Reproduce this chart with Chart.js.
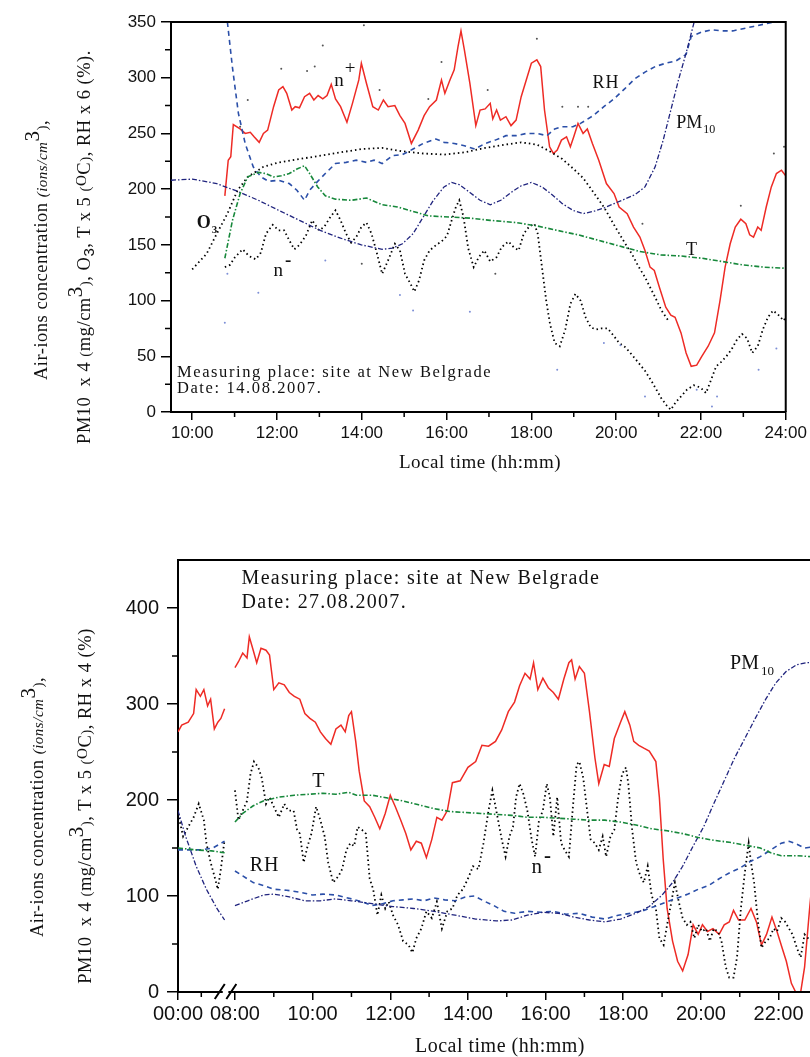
<!DOCTYPE html>
<html>
<head>
<meta charset="utf-8">
<script src="https://cdn.jsdelivr.net/npm/chart.js@4.4.1/dist/chart.umd.min.js"></script>
<style>
  body { margin: 0; background: #fff; overflow: hidden; width: 810px; height: 1057px; position: relative; font-family: 'Liberation Serif', serif; color: #111; }
  canvas { position: absolute; left: 0; }
  #topChart { top: 0; }
  #botChart { top: 540px; }
  .ytitle { position: absolute; white-space: nowrap; transform: translate(-50%, -50%) rotate(-90deg); font-size: 18.5px; letter-spacing: 0.5px; }
  .ytitle .s { font-size: 15px; }
  .ytitle sup { font-size: 21px; position: relative; top: -0.4em; vertical-align: baseline; }
  .ytitle sup.o { font-size: 15px; top: -0.25em; }
  .xtitle { position: absolute; white-space: nowrap; transform: translate(-50%, -50%); letter-spacing: 0.5px; }
</style>
</head>
<body>
<canvas id="topChart" width="810" height="480"></canvas>
<canvas id="botChart" width="840" height="517"></canvas>

<div class="ytitle" style="left:40px; top:250px;">Air-ions concentration <i class="s">(ions/cm</i><sup>3</sup><span class="s">)</span>,</div>
<div class="ytitle" style="left:84px; top:247px;">PM10&nbsp; x 4 <span class="s">(</span>mg/cm<sup>3</sup><span class="s">)</span>, O<sub style="font-family:'Liberation Sans';font-size:15px">3</sub>, T x 5 <span class="s">(</span><sup class="o">O</sup>C<span class="s">)</span>, RH x 6 (%).</div>
<div class="xtitle" style="left:480px; top:462px; font-size:19px;">Local time (hh:mm)</div>

<div class="ytitle" style="left:36px; top:807px;">Air-ions concentration <i class="s">(ions/cm</i><sup>3</sup><span class="s">)</span>,</div>
<div class="ytitle" style="left:84px; top:806px;">PM10&nbsp; x 4 <span class="s">(</span>mg/cm<sup>3</sup><span class="s">)</span>, T x 5 <span class="s">(</span><sup class="o">O</sup>C<span class="s">)</span>, RH x 4 (%)</div>
<div class="xtitle" style="left:500px; top:1045px; font-size:20px;">Local time (hh:mm)</div>

<script>
// ---- 14.08.2007 (top panel), [hour, value] ----
const topNPlus = [[10.77,194],[10.85,226],[10.91,229],[10.97,258],[11.13,254],[11.25,250],[11.37,251],[11.46,247],[11.58,242],[11.68,250],[11.78,253],[11.92,274],[12.04,289],[12.14,292],[12.23,286],[12.35,271],[12.43,274],[12.53,273],[12.65,283],[12.77,286],[12.87,280],[12.97,284],[13.08,281],[13.18,284],[13.28,294],[13.38,281],[13.5,274],[13.65,260],[13.78,277],[13.93,298],[13.99,313],[14.11,295],[14.26,274],[14.39,271],[14.51,280],[14.62,274],[14.78,275],[14.9,266],[15.02,259],[15.17,241],[15.33,253],[15.47,266],[15.6,274],[15.76,280],[15.88,298],[15.96,286],[16.08,298],[16.18,307],[16.27,328],[16.34,342],[16.42,325],[16.55,295],[16.69,257],[16.79,271],[16.91,272],[17.03,277],[17.09,263],[17.18,271],[17.27,262],[17.4,265],[17.52,257],[17.64,262],[17.76,283],[17.88,298],[18.0,313],[18.13,316],[18.22,310],[18.31,271],[18.43,238],[18.52,232],[18.61,235],[18.71,244],[18.83,247],[18.92,238],[19.0,247],[19.1,259],[19.22,250],[19.32,254],[19.44,241],[19.59,226],[19.77,205],[19.95,196],[20.07,184],[20.26,178],[20.41,166],[20.56,157],[20.68,145],[20.8,130],[20.9,127],[21.02,112],[21.17,94],[21.29,87],[21.39,85],[21.53,71],[21.65,53],[21.77,41],[21.9,42],[22.02,50],[22.17,59],[22.32,71],[22.45,100],[22.57,130],[22.69,151],[22.81,166],[22.94,173],[23.06,169],[23.15,159],[23.24,157],[23.34,166],[23.42,163],[23.54,184],[23.66,202],[23.78,214],[23.9,217],[24.0,212]];
const topNMinus = [[10.77,130],[10.89,132],[11.01,139],[11.19,146],[11.34,140],[11.5,137],[11.62,143],[11.74,160],[11.9,168],[12.04,163],[12.17,163],[12.29,154],[12.41,146],[12.53,150],[12.68,158],[12.83,172],[12.99,163],[13.11,166],[13.26,175],[13.38,181],[13.5,172],[13.63,160],[13.75,152],[13.87,157],[13.99,166],[14.11,170],[14.23,160],[14.36,142],[14.48,124],[14.62,136],[14.78,151],[14.9,145],[15.02,124],[15.15,115],[15.24,108],[15.35,118],[15.47,136],[15.6,145],[15.76,150],[15.88,153],[16.01,158],[16.12,172],[16.22,184],[16.3,190],[16.4,175],[16.51,147],[16.64,130],[16.76,139],[16.89,145],[17.03,135],[17.18,139],[17.3,148],[17.46,153],[17.58,148],[17.7,145],[17.82,160],[17.94,166],[18.07,169],[18.15,160],[18.25,130],[18.35,100],[18.44,79],[18.55,62],[18.67,59],[18.8,74],[18.92,97],[19.04,106],[19.16,100],[19.28,85],[19.4,76],[19.53,74],[19.65,75],[19.8,75],[19.95,68],[20.07,62],[20.22,58],[20.38,51],[20.53,44],[20.68,37],[20.83,28],[20.95,20],[21.07,12],[21.19,6],[21.29,2],[21.41,9],[21.53,14],[21.67,20],[21.83,24],[21.99,22],[22.12,17],[22.24,29],[22.36,41],[22.48,45],[22.6,50],[22.72,56],[22.85,65],[22.97,70],[23.09,66],[23.21,53],[23.34,59],[23.46,74],[23.58,85],[23.7,91],[23.83,87],[23.95,82],[24.0,85]];
const topO3 = [[10.0,128],[10.34,142],[10.58,160],[10.83,178],[11.07,199],[11.31,211],[11.68,220],[12.04,224],[12.53,227],[13.02,230],[13.5,233],[13.99,236],[14.48,237],[14.96,234],[15.45,232],[15.94,231],[16.42,233],[16.91,237],[17.4,240],[17.76,242],[18.13,240],[18.43,234],[18.73,227],[19.0,218],[19.22,210],[19.43,199],[19.71,184],[19.98,166],[20.2,152],[20.37,142],[20.52,131],[20.68,121],[20.92,103],[21.07,91],[21.23,82]];
const topRH = [[10.83,350],[10.95,309],[11.09,268],[11.25,241],[11.44,220],[11.62,211],[11.8,207],[12.04,208],[12.29,205],[12.47,199],[12.65,190],[12.77,199],[12.96,207],[13.14,214],[13.38,223],[13.63,224],[13.87,226],[14.11,224],[14.29,226],[14.48,223],[14.72,230],[14.96,231],[15.21,236],[15.45,241],[15.75,245],[15.94,242],[16.18,241],[16.42,239],[16.67,236],[16.91,241],[17.15,244],[17.4,248],[17.64,248],[17.88,250],[18.13,250],[18.37,248],[18.55,254],[18.73,256],[18.98,256],[19.16,259],[19.46,266],[19.71,274],[19.95,281],[20.2,290],[20.44,299],[20.68,305],[20.92,310],[21.17,313],[21.41,315],[21.65,321],[21.77,337],[22.02,341],[22.26,343],[22.5,342],[22.75,342],[22.99,344],[23.24,346],[23.48,348],[23.72,350]];
const topPM10 = [[9.5,208],[10.0,209],[10.58,205],[11.07,198],[11.56,190],[12.04,181],[12.53,172],[13.02,163],[13.5,156],[13.99,150],[14.48,146],[14.72,147],[14.96,151],[15.21,160],[15.45,175],[15.69,190],[15.94,202],[16.12,206],[16.3,204],[16.55,197],[16.79,190],[17.03,186],[17.28,190],[17.52,197],[17.76,203],[18.0,206],[18.25,202],[18.49,195],[18.73,187],[18.98,181],[19.22,178],[19.46,180],[19.71,183],[19.95,187],[20.2,191],[20.44,195],[20.68,202],[20.92,220],[21.11,244],[21.29,271],[21.47,298],[21.65,322],[21.84,350]];
const topT = [[10.77,138],[10.95,172],[11.13,196],[11.31,211],[11.56,215],[11.74,214],[11.92,211],[12.1,212],[12.29,214],[12.47,218],[12.65,221],[12.77,214],[12.96,202],[13.14,194],[13.38,191],[13.75,190],[14.11,192],[14.48,186],[14.84,184],[15.21,180],[15.57,176],[16.06,175],[16.55,174],[17.03,172],[17.64,170],[18.13,167],[18.61,163],[19.1,159],[19.59,154],[20.07,149],[20.56,144],[21.05,141],[21.53,140],[22.02,138],[22.51,135],[22.99,132],[23.48,130],[24.0,129]];
const topRawGrey = [[14.05,347],[13.08,329],[12.1,308],[12.71,306],[12.89,310],[11.31,280],[11.13,256],[14.42,289],[15.57,281],[15.88,314],[16.97,289],[18.13,335],[18.73,274],[19.1,274],[19.34,274],[20.62,169],[22.94,185],[23.72,232],[23.96,238],[17.15,124],[14.0,133]];
const topRawBlue = [[10.77,80],[10.83,124],[15.21,91],[16.55,90],[18.61,38],[19.71,62],[20.68,14],[22.38,14],[23.78,57],[23.36,38],[14.9,105],[22.26,5],[13.14,136],[11.56,107],[20.1,60],[21.9,20]];
const topXTicks = [10, 12, 14, 16, 18, 20, 22, 24];
const topYTicks = [0, 50, 100, 150, 200, 250, 300, 350];

// ---- 27.08.2007 (bottom panel), early part 00:00-02:00 and main part from 08:00 ----
const botNPlusEarly = [[0,271],[0.16,278],[0.44,281],[0.67,290],[0.78,315],[0.96,308],[1.11,315],[1.27,298],[1.4,305],[1.56,274],[1.71,281],[1.84,285],[2.0,295]];
const botNPlus = [[8.0,338],[8.09,344],[8.2,353],[8.31,348],[8.37,370],[8.47,356],[8.56,343],[8.67,358],[8.8,356],[8.89,351],[9.0,315],[9.13,322],[9.27,320],[9.4,312],[9.53,308],[9.67,305],[9.8,290],[9.93,285],[10.07,281],[10.2,271],[10.33,264],[10.47,258],[10.6,274],[10.73,278],[10.84,271],[10.93,288],[11.0,292],[11.11,261],[11.2,230],[11.33,199],[11.47,193],[11.6,182],[11.73,170],[11.87,186],[12.0,205],[12.13,193],[12.27,179],[12.4,165],[12.53,148],[12.67,157],[12.8,155],[12.93,140],[13.07,159],[13.2,182],[13.33,179],[13.47,189],[13.6,218],[13.8,220],[14.0,234],[14.2,240],[14.36,257],[14.53,256],[14.71,261],[14.87,273],[15.04,292],[15.2,302],[15.33,319],[15.47,332],[15.6,326],[15.69,343],[15.8,315],[15.93,327],[16.07,317],[16.2,312],[16.33,305],[16.47,326],[16.6,343],[16.67,346],[16.76,326],[16.87,339],[17.0,332],[17.13,292],[17.27,244],[17.37,217],[17.51,237],[17.64,235],[17.77,264],[17.93,281],[18.04,292],[18.17,278],[18.27,261],[18.4,257],[18.53,254],[18.67,251],[18.84,240],[18.93,203],[19.03,138],[19.13,87],[19.27,53],[19.4,32],[19.53,22],[19.67,39],[19.8,70],[19.93,60],[20.04,70],[20.17,63],[20.31,66],[20.47,60],[20.6,70],[20.73,73],[20.84,85],[20.97,75],[21.13,75],[21.29,87],[21.43,73],[21.56,49],[21.69,60],[21.83,78],[21.96,63],[22.09,46],[22.2,32],[22.33,9],[22.44,0],[22.57,0],[22.67,26],[22.8,87],[22.9,130]];
const botNMinusEarly = [[0,186],[0.22,162],[0.44,172],[0.67,182],[0.89,196],[1.11,179],[1.22,155],[1.4,135],[1.56,121],[1.71,107],[1.84,128],[2.0,159]];
const botNMinus = [[8.0,210],[8.09,179],[8.2,189],[8.31,199],[8.4,227],[8.49,240],[8.6,234],[8.69,223],[8.8,196],[8.89,203],[9.0,193],[9.13,182],[9.27,196],[9.37,189],[9.51,189],[9.6,169],[9.67,165],[9.77,135],[9.87,152],[9.97,165],[10.09,193],[10.2,179],[10.31,162],[10.4,135],[10.53,114],[10.67,121],[10.76,128],[10.87,148],[10.97,155],[11.07,152],[11.16,172],[11.27,169],[11.37,165],[11.47,118],[11.56,107],[11.67,80],[11.77,101],[11.87,87],[11.96,94],[12.07,80],[12.2,70],[12.33,53],[12.47,49],[12.57,41],[12.67,56],[12.8,66],[12.93,84],[13.07,77],[13.2,94],[13.33,66],[13.47,84],[13.6,87],[13.73,101],[13.87,107],[14.0,118],[14.13,131],[14.27,128],[14.4,155],[14.53,189],[14.63,210],[14.73,189],[14.87,159],[14.97,141],[15.07,162],[15.16,172],[15.24,203],[15.33,217],[15.43,206],[15.53,189],[15.64,159],[15.73,141],[15.83,179],[15.93,189],[16.03,217],[16.11,203],[16.2,162],[16.3,203],[16.4,155],[16.49,148],[16.6,141],[16.71,196],[16.8,237],[16.87,240],[16.97,223],[17.07,189],[17.16,159],[17.27,155],[17.37,148],[17.47,162],[17.56,141],[17.67,162],[17.77,169],[17.87,203],[17.97,227],[18.07,234],[18.13,217],[18.23,169],[18.33,135],[18.44,121],[18.53,114],[18.63,131],[18.73,101],[18.84,87],[18.93,56],[19.04,49],[19.13,70],[19.24,94],[19.33,114],[19.43,94],[19.53,77],[19.64,70],[19.73,73],[19.83,56],[19.93,70],[20.03,63],[20.13,66],[20.23,53],[20.33,66],[20.44,63],[20.53,53],[20.64,26],[20.73,15],[20.84,15],[20.93,36],[21.03,87],[21.13,124],[21.23,155],[21.29,135],[21.37,114],[21.47,73],[21.56,46],[21.67,53],[21.77,56],[21.87,66],[21.96,63],[22.07,77],[22.17,73],[22.27,66],[22.36,60],[22.47,46],[22.57,36],[22.67,60],[22.76,56],[22.84,53],[23.0,60]];
const botTEarly = [[0,150],[0.78,148],[1.44,147],[2.0,145]];
const botT = [[8.0,177],[8.2,186],[8.47,194],[8.73,199],[9.13,203],[9.53,205],[9.93,206],[10.27,207],[10.6,206],[10.93,208],[11.13,205],[11.53,205],[11.93,202],[12.33,199],[12.73,195],[13.13,191],[13.53,188],[13.93,187],[14.33,186],[14.73,185],[15.13,184],[15.53,182],[15.93,182],[16.33,181],[16.73,180],[17.13,179],[17.53,179],[17.93,177],[18.33,174],[18.73,170],[19.13,168],[19.53,165],[19.93,161],[20.33,158],[20.73,156],[21.13,153],[21.53,150],[21.8,145],[22.07,142],[22.47,142],[22.84,141],[23.1,141]];
const botRHEarly = [[0,148],[1.0,148],[1.5,150],[2.0,157]];
const botRH = [[8.0,126],[8.2,121],[8.47,114],[8.73,111],[9.0,107],[9.33,106],[9.67,104],[10.0,101],[10.27,102],[10.6,101],[11.0,97],[11.27,94],[11.53,90],[11.8,92],[12.07,95],[12.33,96],[12.6,97],[12.87,95],[13.13,98],[13.4,96],[13.67,95],[13.93,99],[14.17,100],[14.4,95],[14.67,90],[14.93,84],[15.2,82],[15.53,84],[15.87,83],[16.2,84],[16.53,81],[16.87,82],[17.2,78],[17.53,76],[17.87,80],[18.2,82],[18.53,85],[18.87,90],[19.13,94],[19.4,98],[19.67,102],[19.93,107],[20.2,111],[20.47,118],[20.73,124],[21.0,129],[21.27,136],[21.53,141],[21.8,148],[22.07,155],[22.27,157],[22.47,154],[22.67,150],[22.84,151],[23.1,150]];
const botPM10Early = [[0,189],[0.33,162],[0.78,131],[1.22,107],[1.67,87],[2.0,75]];
const botPM10 = [[8.0,90],[8.33,95],[8.73,101],[9.0,102],[9.4,99],[9.8,95],[10.2,95],[10.6,97],[11.0,95],[11.53,92],[12.07,89],[12.6,87],[13.13,84],[13.67,80],[14.2,76],[14.73,74],[15.13,75],[15.53,80],[15.93,83],[16.33,82],[16.73,78],[17.13,75],[17.53,73],[17.93,76],[18.33,82],[18.67,89],[19.0,101],[19.27,114],[19.53,131],[19.8,152],[20.07,172],[20.33,196],[20.6,220],[20.87,244],[21.13,264],[21.4,285],[21.67,305],[21.93,322],[22.2,334],[22.47,341],[22.73,343],[23.1,343]];
const botXTickHours = [0, 8, 10, 12, 14, 16, 18, 20, 22];
const botXTickLabels = ['00:00', '08:00', '10:00', '12:00', '14:00', '16:00', '18:00', '20:00', '22:00'];
const botYTicks = [0, 100, 200, 300, 400];

// axis positions for the broken time axis of the bottom panel
const EARLY_SCALE = 0.6;      // axis units per hour before the break
const MAIN_START = 1.467;     // axis position of 08:00
function uEarly(t) { return t * EARLY_SCALE; }
function uMain(t) { return t - 8 + MAIN_START; }

function pts(arr) { return arr.map(p => ({ x: p[0], y: p[1] })); }
function botPts(early, main) {
  return early.map(p => ({ x: uEarly(p[0]), y: p[1] }))
    .concat([{ x: 1.33, y: null }])
    .concat(main.map(p => ({ x: uMain(p[0]), y: p[1] })));
}

const RED = '#ee2b25', BLUE = '#2b4fa8', NAVY = '#20247e', GREEN = '#17883b', BLACK = '#000';

function lineDs(data, color, width, dash) {
  return { data: data, borderColor: color, borderWidth: width, borderDash: dash, borderCapStyle: 'butt', pointRadius: 0, tension: 0, spanGaps: false };
}
function dotDs(data, color) {
  return { data: data, showLine: false, pointRadius: 1, pointBorderWidth: 0, pointBackgroundColor: color, borderColor: color };
}

// frame, minor ticks, axis break and in-plot labels
const decor = {
  id: 'decor',
  afterDraw(chart, args, o) {
    const { ctx, chartArea: a, scales: { x, y } } = chart;
    ctx.save();
    ctx.strokeStyle = '#000';
    ctx.lineWidth = 2;
    ctx.beginPath();
    ctx.moveTo(a.left, a.top); ctx.lineTo(a.right, a.top); ctx.lineTo(a.right, a.bottom);
    ctx.stroke();
    ctx.lineWidth = 1.5;
    ctx.beginPath();
    o.minorX.forEach(v => { const px = x.getPixelForValue(v); ctx.moveTo(px, a.bottom); ctx.lineTo(px, a.bottom + 5); });
    o.minorY.forEach(v => { const py = y.getPixelForValue(v); ctx.moveTo(a.left, py); ctx.lineTo(a.left - 6, py); });
    ctx.stroke();
    if (o.axisBreak) {
      const b1 = x.getPixelForValue(o.axisBreak[0]), b2 = x.getPixelForValue(o.axisBreak[1]);
      ctx.lineWidth = 2;
      ctx.beginPath();
      ctx.moveTo(a.left, a.bottom); ctx.lineTo(b1 + 4, a.bottom);
      ctx.moveTo(b2 - 4, a.bottom); ctx.lineTo(a.right, a.bottom);
      ctx.moveTo(b1 - 4, a.bottom + 7); ctx.lineTo(b1 + 6, a.bottom - 8);
      ctx.moveTo(b2 - 6, a.bottom + 7); ctx.lineTo(b2 + 4, a.bottom - 8);
      ctx.stroke();
    }
    ctx.fillStyle = '#111';
    ctx.textBaseline = 'alphabetic';
    o.labels.forEach(l => {
      const px = x.getPixelForValue(l.x), py = y.getPixelForValue(l.y);
      ctx.font = l.font;
      ctx.letterSpacing = (l.spacing || 0) + 'px';
      ctx.fillText(l.text, px, py);
      const w = ctx.measureText(l.text).width;
      if (l.small) {
        ctx.font = l.small.font;
        ctx.fillText(l.small.text, px + w + (l.small.dx || 0), py + l.small.dy);
      }
    });
    ctx.letterSpacing = '0px';
    ctx.restore();
  }
};

function axisCommon(fontSize) {
  return {
    type: 'linear',
    grid: { drawOnChartArea: false, color: '#000', lineWidth: 1.5, tickLength: 8 },
    border: { color: '#000', width: 2 },
    ticks: { color: '#111', font: { family: 'Liberation Sans', size: fontSize }, autoSkip: false, maxRotation: 0 }
  };
}

// ---------- top chart ----------
const topX = axisCommon(17);
topX.min = 9.5; topX.max = 24;
topX.afterBuildTicks = s => { s.ticks = topXTicks.map(v => ({ value: v })); };
topX.ticks.callback = v => (v < 10 ? '0' : '') + v + ':00';
topX.ticks.padding = 3;
topX.afterFit = s => { s.height = 68; };
const topY = axisCommon(17);
topY.min = 0; topY.max = 350;
topY.afterBuildTicks = s => { s.ticks = topYTicks.map(v => ({ value: v })); };
topY.ticks.padding = 5;
topY.grid.tickLength = 10;
topY.afterFit = s => { s.width = 171; };

new Chart(document.getElementById('topChart'), {
  type: 'line',
  data: {
    datasets: [
      dotDs(pts(topRawGrey), '#555'),
      dotDs(pts(topRawBlue), '#7d8fd6'),
      lineDs(pts(topT), GREEN, 1.6, [5, 2, 1.5, 2]),
      lineDs(pts(topPM10), NAVY, 1.3, [5, 2, 1.5, 2]),
      lineDs(pts(topRH), BLUE, 1.6, [5, 4]),
      lineDs(pts(topO3), BLACK, 1.8, [1.5, 3]),
      lineDs(pts(topNMinus), BLACK, 1.8, [1.5, 3]),
      lineDs(pts(topNPlus), RED, 1.5, [])
    ]
  },
  options: {
    responsive: false, animation: false,
    layout: { padding: { left: 0, top: 22, right: 22, bottom: 0 } },
    plugins: {
      legend: { display: false }, tooltip: { enabled: false },
      decor: {
        minorX: [11, 13, 15, 17, 19, 21, 23],
        minorY: [25, 75, 125, 175, 225, 275, 325],
        labels: [
          { x: 13.35, y: 293, text: 'n', font: '19px "Liberation Serif"', small: { text: '+', font: '19px "Liberation Serif"', dy: -12, dx: 1 } },
          { x: 19.44, y: 291, text: 'RH', font: '18px "Liberation Serif"', spacing: 1 },
          { x: 21.42, y: 255, text: 'PM', font: '18px "Liberation Serif"', small: { text: '10', font: '12px "Liberation Serif"', dy: 5, dx: 1 } },
          { x: 21.65, y: 141, text: 'T', font: '18px "Liberation Serif"' },
          { x: 10.11, y: 165, text: 'O', font: 'bold 18px "Liberation Serif"', small: { text: '3', font: 'bold 11px "Liberation Serif"', dy: 5, dx: 1 } },
          { x: 11.92, y: 122, text: 'n', font: '19px "Liberation Serif"', small: { text: '-', font: 'bold 19px "Liberation Serif"', dy: -10, dx: 2 } },
          { x: 9.64, y: 31.5, text: 'Measuring place: site at New Belgrade', font: '16.5px "Liberation Serif"', spacing: 1.6 },
          { x: 9.64, y: 17, text: 'Date: 14.08.2007.', font: '16.5px "Liberation Serif"', spacing: 1.6 }
        ]
      }
    },
    scales: { x: topX, y: topY }
  },
  plugins: [decor]
});

// ---------- bottom chart ----------
const botX = axisCommon(20);
botX.min = 0; botX.max = 16.56;
botX.border = { display: false };
botX.afterBuildTicks = s => {
  s.ticks = botXTickHours.map(h => ({ value: h === 0 ? uEarly(0) : uMain(h) }));
};
botX.ticks.callback = (v, i) => botXTickLabels[i];
botX.ticks.padding = 2;
botX.afterFit = s => { s.height = 65; };
const botY = axisCommon(20);
botY.min = 0; botY.max = 450;
botY.afterBuildTicks = s => { s.ticks = botYTicks.map(v => ({ value: v })); };
botY.ticks.padding = 8;
botY.grid.tickLength = 11;
botY.afterFit = s => { s.width = 178; };

new Chart(document.getElementById('botChart'), {
  type: 'line',
  data: {
    datasets: [
      lineDs(botPts(botTEarly, botT), GREEN, 1.6, [5, 2, 1.5, 2]),
      lineDs(botPts(botPM10Early, botPM10), NAVY, 1.3, [5, 2, 1.5, 2]),
      lineDs(botPts(botRHEarly, botRH), BLUE, 1.6, [5, 4]),
      lineDs(botPts(botNMinusEarly, botNMinus), BLACK, 1.8, [1.5, 3]),
      lineDs(botPts(botNPlusEarly, botNPlus), RED, 1.5, [])
    ]
  },
  options: {
    responsive: false, animation: false,
    layout: { padding: { left: 0, top: 12, right: 19, bottom: 0 } },
    plugins: {
      legend: { display: false }, tooltip: { enabled: false },
      decor: {
        minorX: [uEarly(1), uMain(9), uMain(11), uMain(13), uMain(15), uMain(17), uMain(19), uMain(21), uMain(23)],
        minorY: [50, 150, 250, 350],
        axisBreak: [1.05, 1.4],
        labels: [
          { x: uMain(8.17), y: 425.5, text: 'Measuring place: site at New Belgrade', font: '20px "Liberation Serif"', spacing: 1.3 },
          { x: uMain(8.17), y: 400, text: 'Date: 27.08.2007.', font: '20px "Liberation Serif"', spacing: 1.3 },
          { x: uMain(9.99), y: 213.6, text: 'T', font: '20px "Liberation Serif"' },
          { x: uMain(8.38), y: 125.6, text: 'RH', font: '20px "Liberation Serif"', spacing: 1 },
          { x: uMain(15.64), y: 123.6, text: 'n', font: '21px "Liberation Serif"', small: { text: '-', font: 'bold 21px "Liberation Serif"', dy: -11, dx: 2 } },
          { x: uMain(20.75), y: 336.4, text: 'PM', font: '20px "Liberation Serif"', small: { text: '10', font: '13px "Liberation Serif"', dy: 6, dx: 2 } }
        ]
      }
    },
    scales: { x: botX, y: botY }
  },
  plugins: [decor]
});
</script>
</body>
</html>
